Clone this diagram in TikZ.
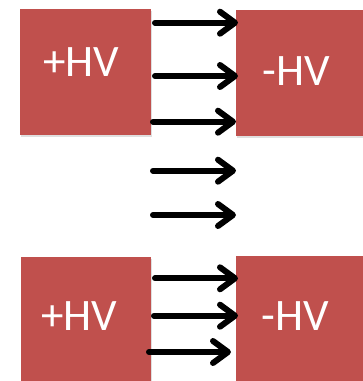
\documentclass[tikz,border=0pt]{standalone}
\usepackage{fontspec}
\setmainfont{Carlito}
\usetikzlibrary{arrows.meta,shadows}
\definecolor{boxred}{HTML}{C0504D}
\tikzset{
  hvbox/.style={fill=boxred, draw=none, inner sep=0pt, minimum width=#1, minimum height=126pt,
    drop shadow={opacity=0.25, shadow xshift=1pt, shadow yshift=-2pt}},
  hvtext/.style={text=white, font=\fontsize{45}{50}\selectfont, inner sep=0pt},
  flow/.style={line width=6pt, line cap=round, -{Straight Barb[round,length=15pt,width=22pt]}},
}
\begin{document}
\begin{tikzpicture}[x=1pt,y=-1pt]
\useasboundingbox (0,0) rectangle (363,381);
\clip (0,0) rectangle (363,381);
% top pair
\node[hvbox=131pt] (tl) at (85.5,72) {};
\node[hvbox=140pt] (tr) at (306,72.5) {};
\node[hvtext] (tlt) at (81,62) {+HV};
\node[hvtext] (trt) at (296,71) {-HV};
% bottom pair
\node[hvbox=130pt] (bl) at (86,320) {};
\node[hvbox=140pt] (br) at (306,319) {};
\node[hvtext] (blt) at (79,316) {+HV};
\node[hvtext] (brt) at (295,316) {-HV};
% arrow end points
\coordinate (a1s) at (155,22.7); \coordinate (a1e) at (238,22.7);
\coordinate (a2s) at (155,76);   \coordinate (a2e) at (238,76);
\coordinate (a3s) at (153,121.7); \coordinate (a3e) at (236,121.7);
\coordinate (a4s) at (153,170.7); \coordinate (a4e) at (236,170.7);
\coordinate (a5s) at (153,215);  \coordinate (a5e) at (236,215);
\coordinate (b1s) at (155,278.3); \coordinate (b1e) at (238,278.3);
\coordinate (b2s) at (154,315.7); \coordinate (b2e) at (238,315.7);
\coordinate (b3s) at (149,352);  \coordinate (b3e) at (231,352);
\foreach \p in {a1,a2,a3,a4,a5,b1,b2,b3}
  \draw[flow] (\p s) -- (\p e);
\end{tikzpicture}
\end{document}
